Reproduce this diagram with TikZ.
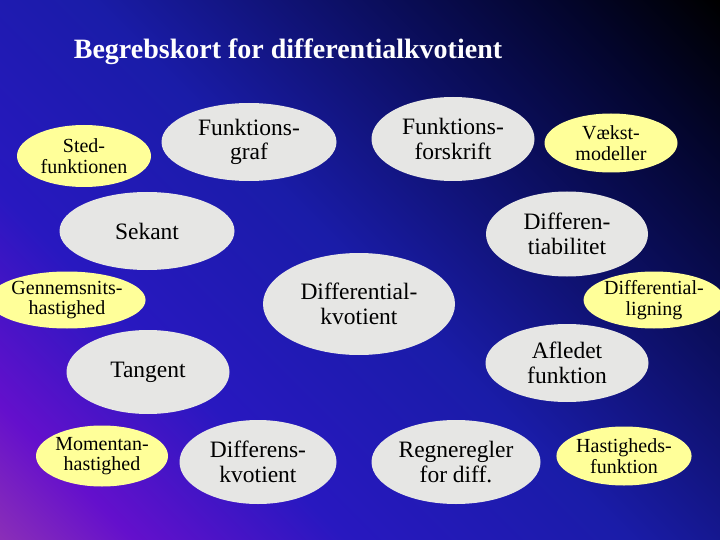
\documentclass[tikz,border=0pt]{standalone}
\usepackage{fontspec}
\setmainfont{Liberation Serif}
\newfontfamily\nodeserif{Liberation Serif}
\usetikzlibrary{shapes.geometric}
\definecolor{bgA}{HTML}{9A3AA8}
\definecolor{bgB}{HTML}{8A2EB8}
\definecolor{bgC}{HTML}{6410CC}
\definecolor{bgD}{HTML}{2818C0}
\definecolor{bgE}{HTML}{1A1CA8}
\definecolor{bgF}{HTML}{0A0D58}
\definecolor{bgG}{HTML}{03052A}
\definecolor{grayfill}{HTML}{E6E6E4}
\definecolor{yellowfill}{HTML}{FFFF99}
\pgfdeclarehorizontalshading{bgsh}{100bp}{color(0bp)=(bgA); color(14.6bp)=(bgB); color(22bp)=(bgC); color(34bp)=(bgD); color(50bp)=(bgE); color(67bp)=(bgF); color(77bp)=(bgG); color(85.4bp)=(black); color(100bp)=(black)}
\tikzset{
  concept/.style={ellipse, fill=grayfill, inner sep=0pt, align=center, text=black,
    font=\nodeserif\fontsize{23.5}{24.5}\selectfont},
  yconcept/.style={ellipse, fill=yellowfill, inner sep=0pt, align=center, text=black,
    font=\nodeserif\fontsize{20}{20.5}\selectfont},
}
\begin{document}
\begin{tikzpicture}[x=1pt,y=-1pt]
\useasboundingbox (0,0) rectangle (720,540);
\shade[shading=bgsh, shading angle=45] (0,0) rectangle (720,540);
\node[text=white, font=\nodeserif\fontsize{28}{30}\bfseries\selectfont] (title) at (288,52) {Begrebskort for differentialkvotient};
% yellow
\node[yconcept, minimum width=134pt, minimum height=62pt] (sted) at (84,156) {Sted-\\funktionen};
\node[yconcept, minimum width=133pt, minimum height=59pt] (vaekst) at (611,143) {Vækst-\\modeller};
\node[yconcept, minimum width=134pt, minimum height=57pt] (gennem) at (67,300) {Gennemsnits-\\hastighed};
\node[yconcept, minimum width=132pt, minimum height=57pt] (difflig) at (654,300) {Differential-\\ligning};
\node[yconcept, minimum width=132pt, minimum height=61pt] (moment) at (102,456) {Momentan-\\hastighed};
\node[yconcept, minimum width=133pt, minimum height=59pt] (hast) at (624,456) {Hastigheds-\\funktion};
% gray
\node[concept, minimum width=175pt, minimum height=78pt] (graf) at (249,142) {Funktions-\\graf};
\node[concept, minimum width=163pt, minimum height=84pt] (forskrift) at (453,139) {Funktions-\\forskrift};
\node[concept, minimum width=175pt, minimum height=78pt] (sekant) at (147,231) {Sekant};
\node[concept, minimum width=162pt, minimum height=85pt] (diffbar) at (567,234) {Differen-\\tiabilitet};
\node[concept, minimum width=192pt, minimum height=102pt] (diffkvot) at (359,304) {Differential-\\kvotient};
\node[concept, minimum width=163pt, minimum height=84pt] (tangent) at (148,372) {Tangent};
\node[concept, minimum width=163pt, minimum height=78pt] (afledet) at (567,363) {Afledet\\funktion};
\node[concept, minimum width=157pt, minimum height=84pt] (differens) at (258,462) {Differens-\\kvotient};
\node[concept, minimum width=169pt, minimum height=84pt] (regne) at (456,462) {Regneregler\\for diff.};
\end{tikzpicture}
\end{document}
